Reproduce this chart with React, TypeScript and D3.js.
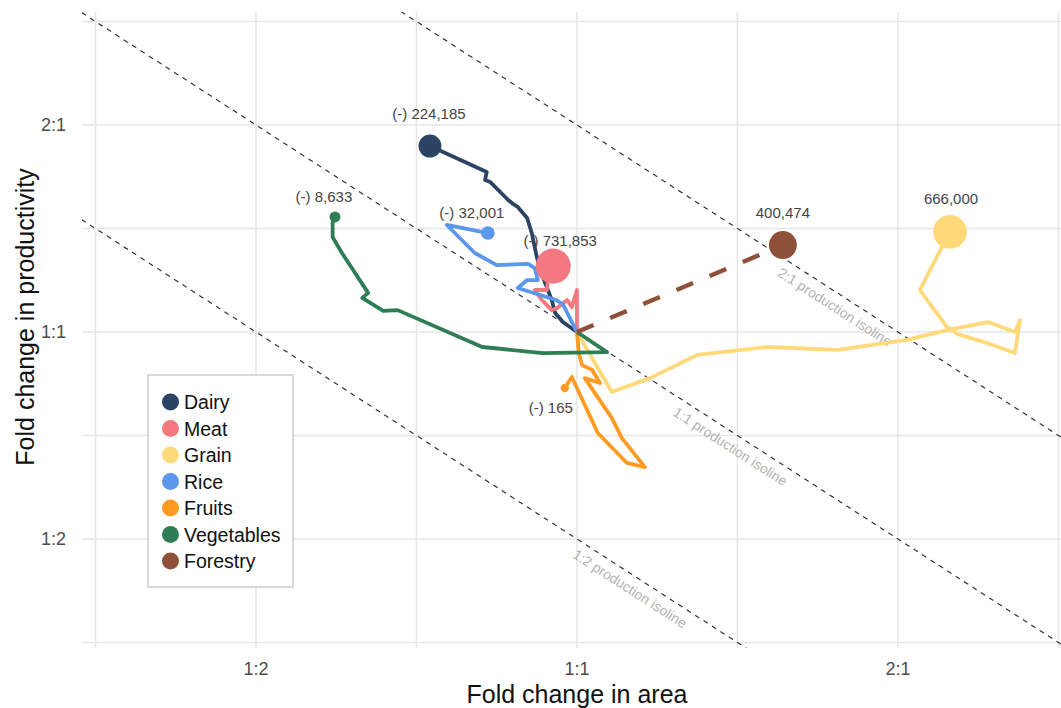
import React from "react";
import * as d3 from "d3";

const W = 1061;
const H = 708;
const PANEL = { left: 82, right: 1061, top: 12, bottom: 648 };

// Categories / styling
const categories = ["Dairy", "Meat", "Grain", "Rice", "Fruits", "Vegetables", "Forestry"];
const colors = ["#2B4463", "#F4787F", "#FFD97A", "#5B97EA", "#FF9A22", "#2E7D55", "#8E5038"];
const endLabels = ["(-) 224,185", "(-) 731,853", "666,000", "(-) 32,001", "(-) 165", "(-) 8,633", "400,474"];
const endSizes = [224185, 731853, 666000, 32001, 165, 8633, 400474];

// Fold change in area (x) and in productivity (y), per series, start (1:1) to end
const dairyArea = [1, 0.97, 0.954, 0.947, 0.929, 0.917, 0.907, 0.898, 0.88, 0.869, 0.862, 0.829, 0.82, 0.823, 0.728];
const dairyProd = [1, 1.034, 1.066, 1.113, 1.202, 1.285, 1.393, 1.465, 1.52, 1.54, 1.556, 1.653, 1.664, 1.709, 1.864];

const meatArea = [1, 1, 0.989, 0.979, 0.958, 0.947, 0.927, 0.913, 0.937, 0.939, 0.95];
const meatProd = [1, 1.151, 1.087, 1.113, 1.084, 1.076, 1.113, 1.151, 1.151, 1.182, 1.247];

const grainArea = [1, 1.078, 1.171, 1.296, 1.51, 1.757, 2.039, 2.228, 2.429, 2.575, 2.603, 2.575, 2.424, 2.277, 2.223, 2.097, 2.199, 2.238];
const grainProd = [1, 0.818, 0.857, 0.926, 0.951, 0.942, 0.974, 1.007, 1.034, 1.0, 1.041, 0.932, 0.964, 0.993, 1.017, 1.151, 1.329, 1.398];

const riceArea = [1, 0.97, 0.956, 0.88, 0.898, 0.919, 0.913, 0.9, 0.841, 0.802, 0.755, 0.825];
const riceProd = [1, 1.098, 1.113, 1.159, 1.19, 1.19, 1.239, 1.256, 1.251, 1.303, 1.431, 1.393];

const fruitsArea = [1, 1.004, 1.011, 1.033, 1.051, 1.017, 1.078, 1.102, 1.158, 1.114, 1.046, 0.989, 0.974];
const fruitsProd = [1, 0.932, 0.895, 0.881, 0.843, 0.857, 0.75, 0.701, 0.636, 0.645, 0.713, 0.86, 0.829];

const vegArea = [1, 1.067, 0.929, 0.815, 0.679, 0.658, 0.629, 0.637, 0.615, 0.602, 0.59, 0.59, 0.593];
const vegProd = [1, 0.935, 0.932, 0.951, 1.076, 1.073, 1.121, 1.14, 1.239, 1.303, 1.374, 1.441, 1.47];

const forestryArea = [1, 1.56];
const forestryProd = [1, 1.338];

const seriesArea = [dairyArea, meatArea, grainArea, riceArea, fruitsArea, vegArea, forestryArea];
const seriesProd = [dairyProd, meatProd, grainProd, riceProd, fruitsProd, vegProd, forestryProd];

// Axis ticks
const majorTicks = [0.5, 1, 2];
const majorTickLabels = ["1:2", "1:1", "2:1"];
const minorTicks = [2 ** -1.5, 2 ** -0.5, 2 ** 0.5, 2 ** 1.5];

// Isolines (area x productivity = constant)
const isolineValues = [2, 1, 0.5];
const isolineLabels = ["2:1 production isoline", "1:1 production isoline", "1:2 production isoline"];
const isolineLabelAt = [2 ** 0.826, 2 ** 0.5, 2 ** 0.187];

// label offsets (px) for end-point annotations
const labelOffsets: [number, number][] = [
  [-1, -33], [7, -26], [1, -33], [-16, -21], [-14, 19], [-11, -20], [0, -33],
];

export default function App() {
  const x = d3.scaleLog().base(2).domain([2 ** -1.542, 2 ** 1.508]).range([PANEL.left, PANEL.right]);
  const y = d3.scaleLog().base(2).domain([2 ** -1.5266, 2 ** 1.546]).range([PANEL.bottom, PANEL.top]);
  const r = d3.scaleSqrt().domain([0, 731853]).range([4, 17.5]);
  const line = d3
    .line<[number, number]>()
    .x((d) => x(d[0]))
    .y((d) => y(d[1]));

  const font = "'Liberation Sans', Arial, Helvetica, sans-serif";
  const gridColor = "#e6e6e6";
  const [xd0, xd1] = x.domain();

  return (
    <svg
      width={W}
      height={H}
      style={{ position: "absolute", left: 0, top: 0, background: "#fff" }}
      fontFamily={font}
    >
      <defs>
        <clipPath id="panel">
          <rect x={PANEL.left} y={PANEL.top} width={PANEL.right - PANEL.left} height={PANEL.bottom - PANEL.top} />
        </clipPath>
      </defs>
      {/* grid */}
      <g>
        {[...minorTicks, ...majorTicks].map((t, i) => (
          <line key={"vx" + i} x1={x(t)} x2={x(t)} y1={PANEL.top} y2={PANEL.bottom} stroke={gridColor} strokeWidth={1.5} />
        ))}
        {[...minorTicks, ...majorTicks].map((t, i) => (
          <line key={"hy" + i} x1={PANEL.left} x2={PANEL.right} y1={y(t)} y2={y(t)} stroke={gridColor} strokeWidth={1.5} />
        ))}
      </g>
      {/* isolines */}
      <g clipPath="url(#panel)">
        {isolineValues.map((c, i) => {
          const pts: [number, number][] = [
            [xd0 / 1.2, c / (xd0 / 1.2)],
            [xd1 * 1.2, c / (xd1 * 1.2)],
          ];
          return (
            <path key={"iso" + i} d={line(pts) || ""} fill="none" stroke="#333" strokeWidth={1.2} strokeDasharray="5 5" />
          );
        })}
        {isolineValues.map((c, i) => {
          const a = isolineLabelAt[i];
          const px = x(a);
          const py = y(c / a);
          const ang = (Math.atan2(y(c / (a * 2)) - y(c / a), x(a * 2) - x(a)) * 180) / Math.PI;
          return (
            <text
              key={"isol" + i}
              transform={`translate(${px},${py}) rotate(${ang})`}
              y={13}
              textAnchor="middle"
              dominantBaseline="central"
              fontSize={14}
              fill="#b3b3b3"
            >
              {isolineLabels[i]}
            </text>
          );
        })}
      </g>
      {/* series */}
      <g clipPath="url(#panel)">
        {categories.map((cat, i) => {
          const pts: [number, number][] = seriesArea[i].map((a, j) => [a, seriesProd[i][j]]);
          const dashed = cat === "Forestry";
          return (
            <path
              key={"s" + cat}
              d={line(pts) || ""}
              fill="none"
              stroke={colors[i]}
              strokeWidth={dashed ? 4.5 : 3.8}
              strokeLinejoin="round"
              strokeDasharray={dashed ? "18 18" : undefined}
            />
          );
        })}
        {categories.map((cat, i) => {
          const n = seriesArea[i].length - 1;
          return (
            <circle
              key={"c" + cat}
              cx={x(seriesArea[i][n])}
              cy={y(seriesProd[i][n])}
              r={r(endSizes[i])}
              fill={colors[i]}
            />
          );
        })}
        {categories.map((cat, i) => {
          const n = seriesArea[i].length - 1;
          return (
            <text
              key={"l" + cat}
              x={x(seriesArea[i][n]) + labelOffsets[i][0]}
              y={y(seriesProd[i][n]) + labelOffsets[i][1]}
              textAnchor="middle"
              dominantBaseline="central"
              fontSize={15}
              fill="#444"
            >
              {endLabels[i]}
            </text>
          );
        })}
      </g>
      {/* axes labels */}
      <g>
        {majorTicks.map((t, i) => (
          <text key={"xt" + i} x={x(t)} y={669} textAnchor="middle" dominantBaseline="central" fontSize={18} fill="#4d4d4d">
            {majorTickLabels[i]}
          </text>
        ))}
        {majorTicks.map((t, i) => (
          <text key={"yt" + i} x={66} y={y(t)} textAnchor="end" dominantBaseline="central" fontSize={18} fill="#4d4d4d">
            {majorTickLabels[i]}
          </text>
        ))}
        <text x={x(1)} y={694} textAnchor="middle" dominantBaseline="central" fontSize={25} fill="#111">
          Fold change in area
        </text>
        <text
          transform={`translate(25,${317}) rotate(-90)`}
          textAnchor="middle"
          dominantBaseline="central"
          fontSize={25}
          fill="#111"
        >
          Fold change in productivity
        </text>
      </g>
      {/* legend */}
      <g>
        <rect x={148} y={375} width={145} height={212} fill="#fff" stroke="#cccccc" strokeWidth={1.5} />
        {categories.map((cat, i) => (
          <g key={"lg" + cat} transform={`translate(0,${402 + i * 26.5})`}>
            <circle cx={170.5} cy={0} r={8.5} fill={colors[i]} />
            <text x={184} y={0} dominantBaseline="central" fontSize={19.5} fill="#111">
              {cat}
            </text>
          </g>
        ))}
      </g>
    </svg>
  );
}
